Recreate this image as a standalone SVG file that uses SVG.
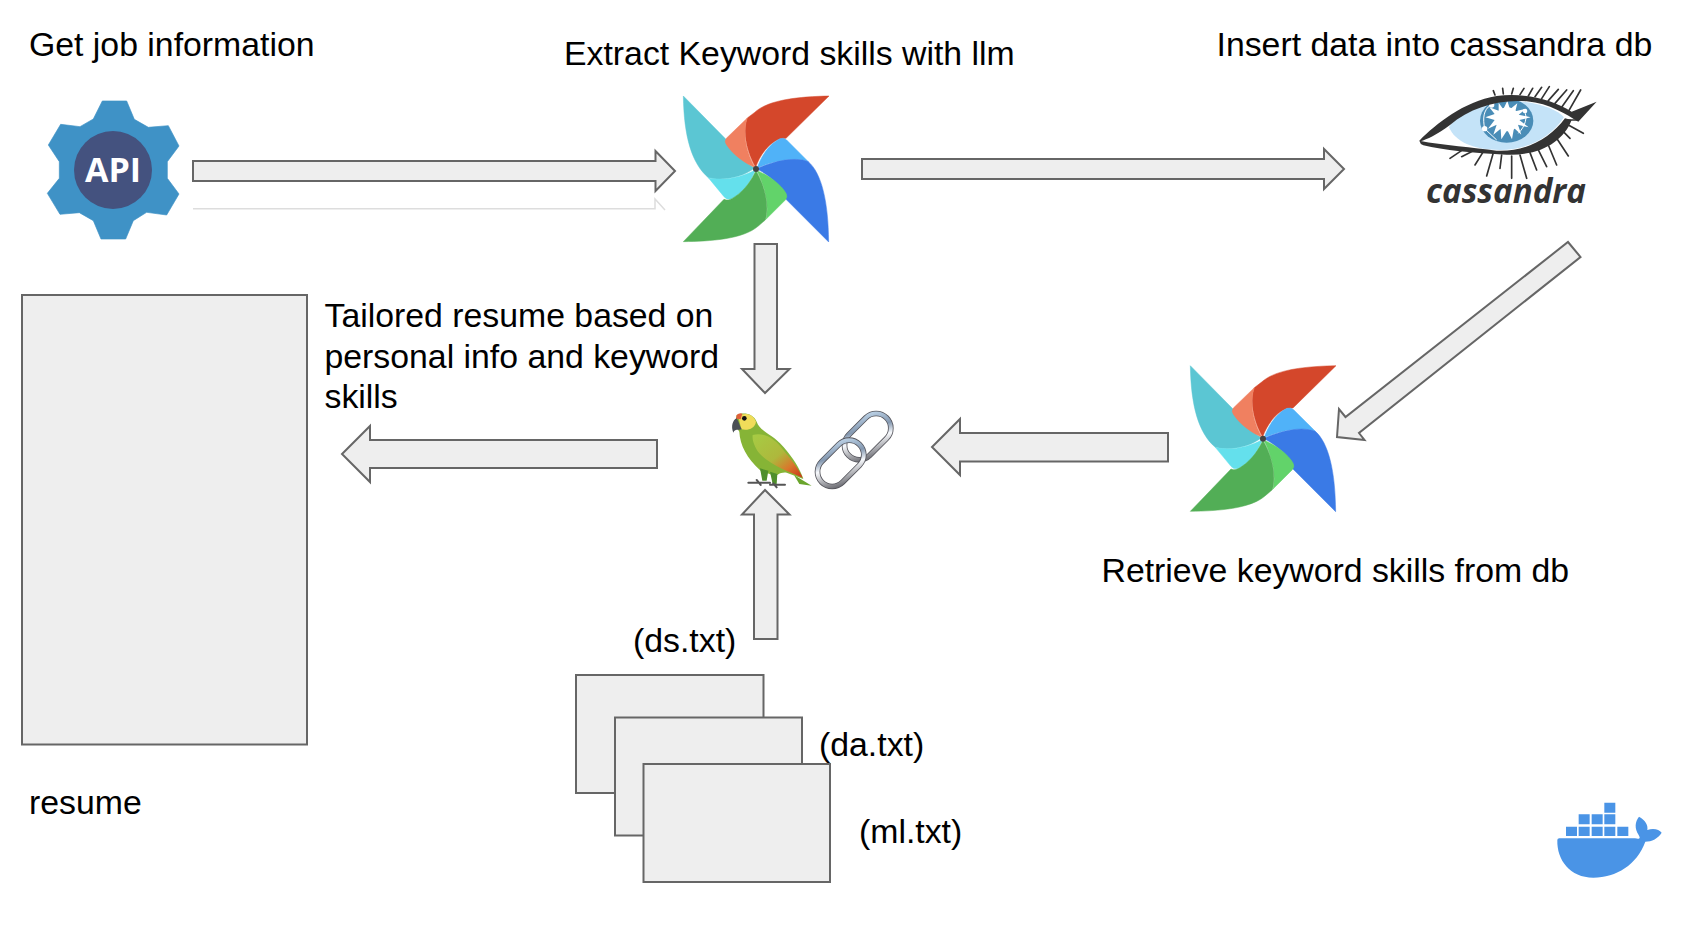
<svg xmlns="http://www.w3.org/2000/svg" width="1706" height="946" viewBox="0 0 1706 946">
<style>
.t{font-family:"Liberation Sans",Arial,sans-serif;font-size:33.8px;fill:#000}
.s{fill:#eeeeee;stroke:#666666;stroke-width:2}
.lash{fill:none;stroke:#333;stroke-width:5;stroke-linecap:round}
.box{fill:#4a94e6}
.b{stroke-width:1.5;stroke-linejoin:round}
</style>
<defs>
<linearGradient id="pg" x1="0" y1="0" x2="1" y2="1"><stop offset="0" stop-color="#a6cc44"/><stop offset=".5" stop-color="#aeb83c"/><stop offset=".75" stop-color="#d9772b"/><stop offset="1" stop-color="#c9301a"/></linearGradient>
<linearGradient id="cg" x1="0" y1="0" x2="1" y2="1"><stop offset="0" stop-color="#c6dcf0"/><stop offset=".35" stop-color="#8498b0"/><stop offset=".55" stop-color="#f7f9fc"/><stop offset="1" stop-color="#55555c"/></linearGradient>
<g id="pin">
<path class="b" fill="#5bc6d3" stroke="#5bc6d3" d="M70,48 L198,178 C225,215 255,250 284,264 C250,290 190,305 145,293 C95,250 72,170 70,48Z"/>
<path class="b" fill="#64e0ec" stroke="#64e0ec" d="M145,293 L192,350 Q205,365 225,350 C258,328 275,298 286,270 C250,290 190,305 145,293Z"/>
<path class="b" fill="#d4472b" stroke="#d4472b" d="M507,48 C420,50 325,58 283,98 L262,114 C245,160 265,225 287,262 C300,225 325,190 360,176 L378,175Z"/>
<path class="b" fill="#f08060" stroke="#f08060" d="M262,114 L199,175 Q192,185 200,195 C220,225 255,250 286,263 C262,225 245,160 262,114Z"/>
<path class="b" fill="#50b2f8" stroke="#50b2f8" d="M360,176 Q372,172 380,180 L445,245 C400,228 340,245 292,263 C305,225 330,190 360,176Z"/>
<path class="b" fill="#3a7ae6" stroke="#3a7ae6" d="M293,265 C340,245 400,228 445,245 C485,280 505,365 506,486 L378,358 C375,330 335,288 293,268Z"/>
<path class="b" fill="#62d36a" stroke="#62d36a" d="M291,272 C325,285 365,315 378,340 Q384,350 376,360 L318,418 C330,370 310,310 291,272Z"/>
<path class="b" fill="#52ae56" stroke="#52ae56" d="M70,485 L192,358 Q205,365 225,350 C258,328 275,298 288,272 C310,310 330,370 316,420 L295,438 C250,478 150,484 70,485Z"/>
<circle cx="288" cy="267" r="9" fill="#444"/>
</g>
</defs>

<g id="connectors">
<path class="s" d="M193,161H655.500V151L675,171L655.500,191V181H193Z"/>
<path d="M193,208.800H655V199L665,210" fill="none" stroke="#dddddd" stroke-width="1.500"/>
<path class="s" d="M862,159H1324V149L1344,169L1324,189V179H862Z"/>
<path class="s" d="M754.500,244H777V369H789.500L765,393L742,369H754.500Z"/>
<path class="s" d="M1568,242L1580.500,257L1359,433L1364.500,440L1337,437L1339,409L1345.500,417Z"/>
<path class="s" d="M1168,433V461.500H960V475L932,447L960,419V433Z"/>
<path class="s" d="M657,440V468H370V482L342,454L370,426V440Z"/>
<path class="s" d="M754,639H777.500V514.500H789.500L765,490L742,514.500H754Z"/>
</g>

<g id="api"><path fill="#3f92c6" stroke="#3f92c6" stroke-width="2" stroke-linejoin="round" transform="translate(30,90) scale(.3333)" d="M217,33H290L313,88L355,112L415,107L447,168L412,215V265L447,312L410,375L350,367L310,392L287,447H213L190,392L148,368L90,373L52,310L88,265V215L55,165L92,103L150,110L190,87Z"/>
<circle cx="113" cy="170" r="39" fill="#44527f"/>
<text x="113" y="182" text-anchor="middle" font-family="'Open Sans','Liberation Sans',sans-serif" font-weight="700" font-size="34" fill="#fff">API</text></g>

<g id="airflow1"><use href="#pin" transform="translate(660,80) scale(.3333)"/></g>
<g id="airflow2"><use href="#pin" transform="translate(1167,349.700) scale(.3333)"/></g>

<g id="cassandra"><g transform="translate(1400,70) scale(.3333)">
<path d="M147,172 C170,130 250,92 320,92 C400,92 470,115 492,142 C450,205 380,240 300,240 C220,240 165,215 147,172Z" fill="#c4e3f8"/>
<ellipse cx="320" cy="152" rx="80" ry="66" fill="#4a8db7"/>
<circle cx="322" cy="148" r="36" fill="#fff"/>
<path fill="#fff" d="M322,92L330,118L352,100L346,124L378,116L356,134L392,142L358,150L386,172L354,164L364,194L342,174L336,208L322,180L304,208L302,176L280,194L290,164L264,176L284,150L256,142L284,132L268,112L296,122L296,98L310,118Z"/>
<path d="M254,176C248,145 250,120 272,105M372,123C385,140 375,170 355,190M254,176L290,210M272,105C290,92 305,95 320,92" fill="none" stroke="#fff" stroke-width="3"/>
<circle cx="254" cy="176" r="8" fill="#fff"/><circle cx="275" cy="105" r="8" fill="#fff"/><circle cx="375" cy="123" r="7" fill="#fff"/>
<path fill="#333" d="M58,212C110,160 190,95 290,78C370,68 450,85 515,125L590,95L535,155C500,135 450,100 380,94C300,87 210,112 150,165C110,195 80,208 62,214Z"/>
<path fill="#333" d="M58,212C130,226 220,232 290,242C380,246 450,205 495,145L515,150C490,215 420,258 320,254C220,250 130,240 70,226Q60,222 58,212Z"/>
<path class="lash" d="M285,75L280,62M310,72L308,55M335,72L340,55M360,74L372,55M385,78L398,55M405,80L425,52M425,86L448,50M445,92L475,58M465,100L500,60M485,112L520,62M505,125L542,60M505,150L535,150M505,165L550,190M490,185L510,205M470,205L505,258M445,225L470,285M415,240L440,290M390,248L410,300M360,255L380,325M335,258L335,325M305,255L300,295M280,248L260,318M250,245L225,285M220,242L185,260M190,238L150,265"/>
</g>
<text x="1426" y="203" font-family="'Open Sans','Liberation Sans',sans-serif" font-weight="700" font-style="italic" font-size="34" fill="#333" textLength="160" lengthAdjust="spacingAndGlyphs">cassandra</text></g>

<g id="langchain"><g transform="translate(720,400) scale(.3333)">
<path fill="#6aa52c" d="M222,225L275,257L238,252Z"/>
<path fill="#86b436" d="M50,45C70,35 100,40 110,65C120,95 155,100 190,140C220,175 240,205 250,237L200,218C180,215 170,228 165,228L122,212C80,175 60,135 58,95L45,75Z"/>
<path fill="url(#pg)" d="M98,105C130,95 165,115 190,150C215,180 235,205 248,233C205,215 150,195 118,160C103,140 96,120 98,105Z"/>
<path fill="#f0dc5a" d="M55,48C75,36 100,42 108,65C105,85 85,92 65,88C60,75 58,60 55,50Z"/>
<path fill="#e0603a" d="M50,45Q58,38 67,41L62,58L48,56Z"/>
<path fill="#4a4f55" d="M50,55C38,60 32,80 40,98C45,85 55,92 65,88C58,78 58,65 50,55Z"/>
<circle cx="73" cy="55" r="7" fill="#111"/>
<path fill="#4f8f2c" d="M120,205L145,212L140,242L127,242ZM150,215L172,222L170,252L158,252Z"/>
<path d="M85,248H150M150,254H195M110,240L122,255M160,250L170,262" stroke="#555" stroke-width="6" fill="none" stroke-linecap="round"/>
<g fill="none">
<rect x="-44" y="-80" width="88" height="160" rx="44" transform="translate(443,110) rotate(45)" stroke="#55555c" stroke-width="17"/>
<rect x="-44" y="-80" width="88" height="160" rx="44" transform="translate(443,110) rotate(45)" stroke="url(#cg)" stroke-width="12"/>
<rect x="-44" y="-80" width="88" height="160" rx="44" transform="translate(362,190) rotate(45)" stroke="#55555c" stroke-width="17"/>
<rect x="-44" y="-80" width="88" height="160" rx="44" transform="translate(362,190) rotate(45)" stroke="url(#cg)" stroke-width="12"/>
</g></g></g>

<g id="docker"><g transform="translate(1540,790) scale(.3333)">
<path class="box" d="M78,110h33v28h-33zM116,110h33v28h-33zM155,110h33v28h-33zM193,110h33v28h-33zM232,110h33v28h-33zM116,73h33v30h-33zM155,73h33v30h-33zM193,73h33v30h-33zM193,38h33v30h-33z"/>
<path class="box" d="M58,145H285C300,148 302,145 296,135C283,115 285,95 297,80C315,90 325,105 322,120C340,113 358,118 365,128C355,145 335,155 316,155C290,225 230,262 160,263C90,263 50,210 52,150Q52,145 58,145Z"/>
</g></g>

<g id="resume"><rect class="s" x="22" y="295" width="285" height="449.500"/><text class="t" x="29" y="814">resume</text></g>
<g id="files">
<rect class="s" x="576" y="675" width="187.500" height="118"/>
<rect class="s" x="615" y="717.500" width="187" height="118"/>
<rect class="s" x="643.500" y="764" width="186.500" height="118"/>
<text class="t" x="633" y="652">(ds.txt)</text>
<text class="t" x="819" y="756">(da.txt)</text>
<text class="t" x="859" y="843">(ml.txt)</text>
</g>
<g id="labels">
<text class="t" x="29" y="56">Get job information</text>
<text class="t" x="564" y="65">Extract Keyword skills with llm</text>
<text class="t" x="1216.500" y="56">Insert data into cassandra db</text>
<text class="t" x="324.500" y="327">Tailored resume based on</text>
<text class="t" x="324.500" y="368">personal info and keyword</text>
<text class="t" x="324.500" y="408">skills</text>
<text class="t" x="1101.500" y="582">Retrieve keyword skills from db</text>
</g>
</svg>
